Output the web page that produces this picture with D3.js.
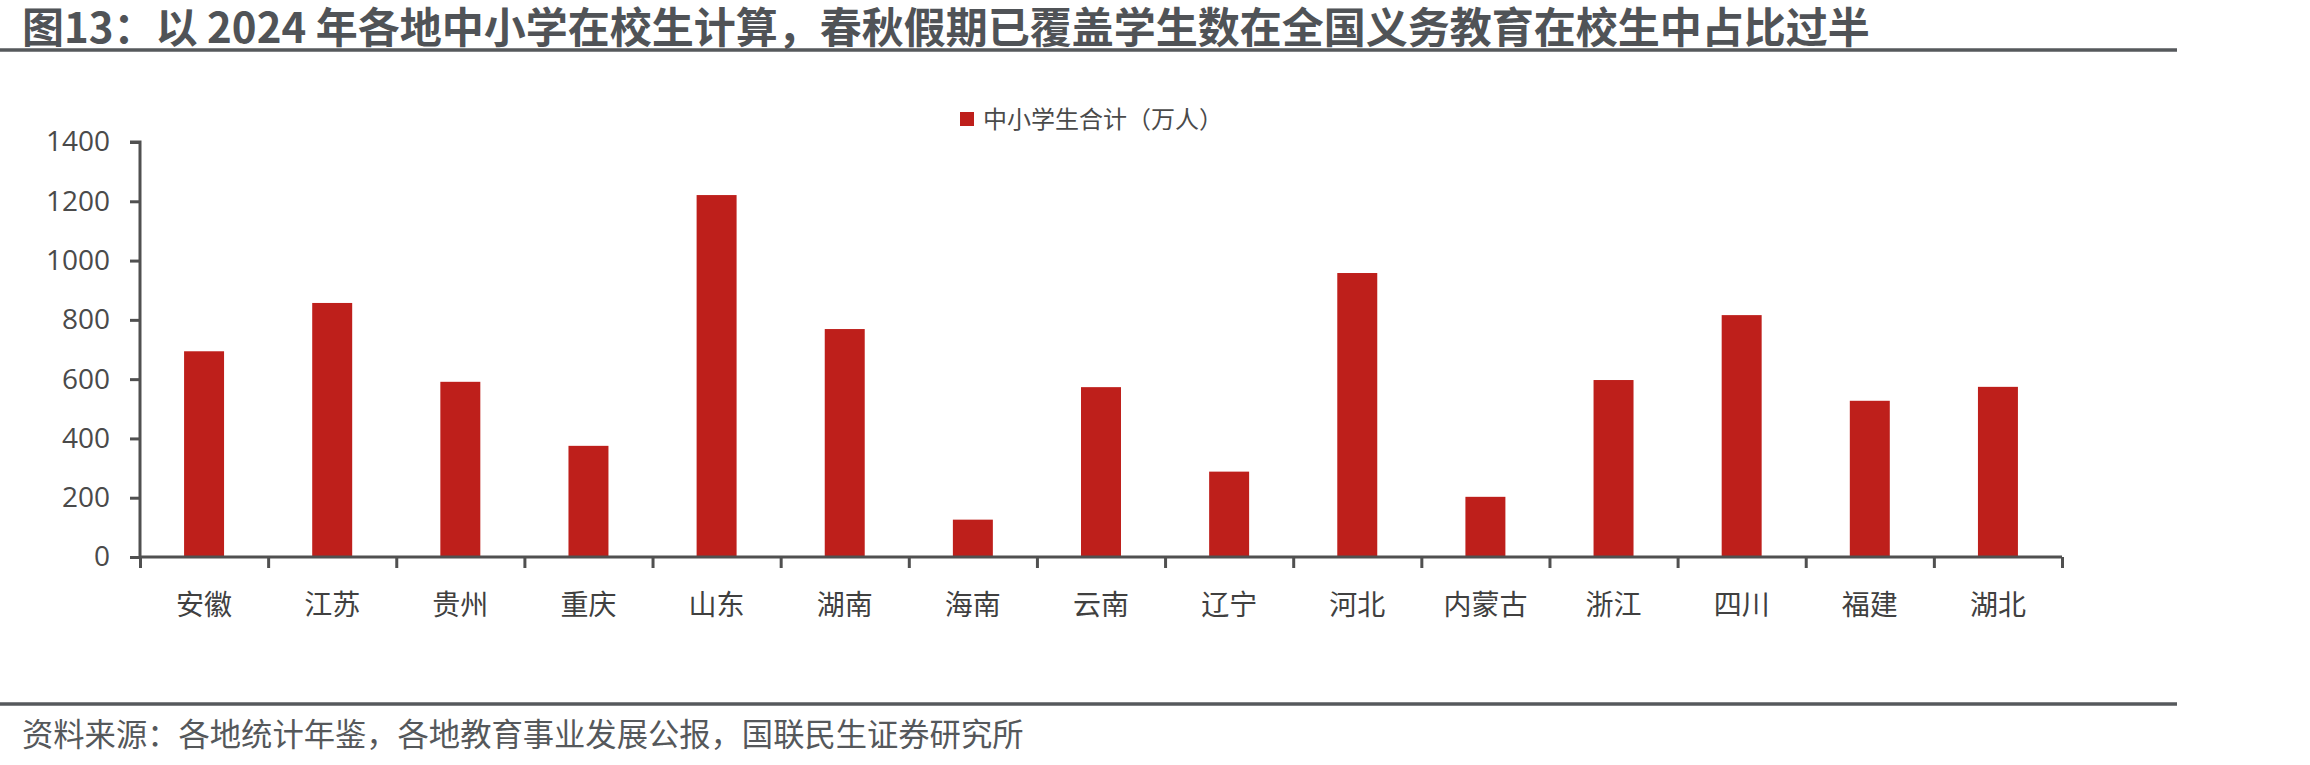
<!DOCTYPE html>
<html>
<head>
<meta charset="utf-8">
<script src="https://cdn.jsdelivr.net/npm/d3@7"></script>
<style>
  body { margin: 0; background: #fff; }
  svg { display: block; }
</style>
</head>
<body>
<svg id="mainsvg" width="2310" height="765"></svg>
<script>
const categories = ['安徽', '江苏', '贵州', '重庆', '山东', '湖南', '海南', '云南', '辽宁', '河北', '内蒙古', '浙江', '四川', '福建', '湖北'];
const students = [694, 857, 591, 375, 1221, 769, 126, 573, 288, 958, 203, 597, 816, 527, 574];
const yTicks = [0, 200, 400, 600, 800, 1000, 1200, 1400];
const seriesName = '中小学生合计（万人）';
const titleText = '图13：以 2024 年各地中小学在校生计算，春秋假期已覆盖学生数在全国义务教育在校生中占比过半';
const sourceText = '资料来源：各地统计年鉴，各地教育事业发展公报，国联民生证券研究所';

const svg = d3.select('#mainsvg');
const cjk = '"Noto Sans CJK SC", "Noto Sans", sans-serif';
const gray = '#505357';
const barColor = '#BE1F1B';

const margin = {top: 142, left: 140, right: 2310 - 2062, bottom: 765 - 557};
const innerWidth = 2310 - margin.left - margin.right;
const innerHeight = 765 - margin.top - margin.bottom;

// title and rules
svg.append('text')
  .text(titleText)
  .attr('x', 22).attr('y', 43)
  .attr('font-family', cjk).attr('font-weight', 'bold')
  .attr('font-size', 42).attr('fill', gray);

svg.append('line').attr('x1', 0).attr('x2', 2177).attr('y1', 50).attr('y2', 50)
  .attr('stroke', '#56595c').attr('stroke-width', 3.5);
svg.append('line').attr('x1', 0).attr('x2', 2177).attr('y1', 704).attr('y2', 704)
  .attr('stroke', '#56595c').attr('stroke-width', 3.5);

svg.append('text')
  .text(sourceText)
  .attr('x', 22).attr('y', 746)
  .attr('font-family', cjk).attr('font-size', 31.3).attr('fill', '#55585b');

const g = svg.append('g')
  .attr('transform', `translate(${margin.left}, ${margin.top})`);

const xScale = d3.scaleBand()
  .domain(categories)
  .range([0, innerWidth])
  .paddingInner(0.688)
  .paddingOuter(0.344);

const yScale = d3.scaleLinear()
  .domain([0, 1400])
  .range([innerHeight, 0]);

categories.forEach((c, i) => {
  g.append('rect')
    .attr('x', xScale(c))
    .attr('y', yScale(students[i]))
    .attr('width', xScale.bandwidth())
    .attr('height', innerHeight - yScale(students[i]))
    .attr('fill', barColor);
});

// y axis
const yAxis = d3.axisLeft(yScale).tickValues(yTicks).tickFormat(d3.format('d'))
  .tickSize(10).tickPadding(20);
const yG = g.append('g').call(yAxis);
yG.selectAll('path, line').attr('stroke', '#505050').attr('stroke-width', 3);
yG.select('.domain').attr('d', `M-10,0H0V${innerHeight}`);
yG.selectAll('text').attr('font-family', '"Open Sans", sans-serif')
  .attr('font-size', 28).attr('fill', '#4a4a4a');

// x axis: boundary ticks between categories
const edgeScale = d3.scaleLinear().domain([0, categories.length]).range([0, innerWidth]);
const xEdge = g.append('g').attr('transform', `translate(0, ${innerHeight})`)
  .call(d3.axisBottom(edgeScale).ticks(categories.length).tickSize(11).tickSizeOuter(0));
xEdge.selectAll('text').remove();
xEdge.selectAll('path, line').attr('stroke', '#505050').attr('stroke-width', 3);
xEdge.select('.domain').attr('d', `M0,0H${innerWidth}`);

// x axis: category labels
const xLab = g.append('g').attr('transform', `translate(0, ${innerHeight})`)
  .call(d3.axisBottom(xScale).tickSize(0));
xLab.select('.domain').remove();
xLab.selectAll('text').attr('y', 48).attr('dy', '0.35em')
  .attr('font-family', cjk).attr('font-size', 28).attr('fill', '#404040');

// legend
svg.append('rect').attr('x', 960).attr('y', 112).attr('width', 14).attr('height', 14)
  .attr('fill', barColor);
svg.append('text').text(seriesName)
  .attr('x', 983).attr('y', 120).attr('dy', '0.35em')
  .attr('font-family', cjk).attr('font-size', 24).attr('fill', '#4a4a4a');
</script>
</body>
</html>
